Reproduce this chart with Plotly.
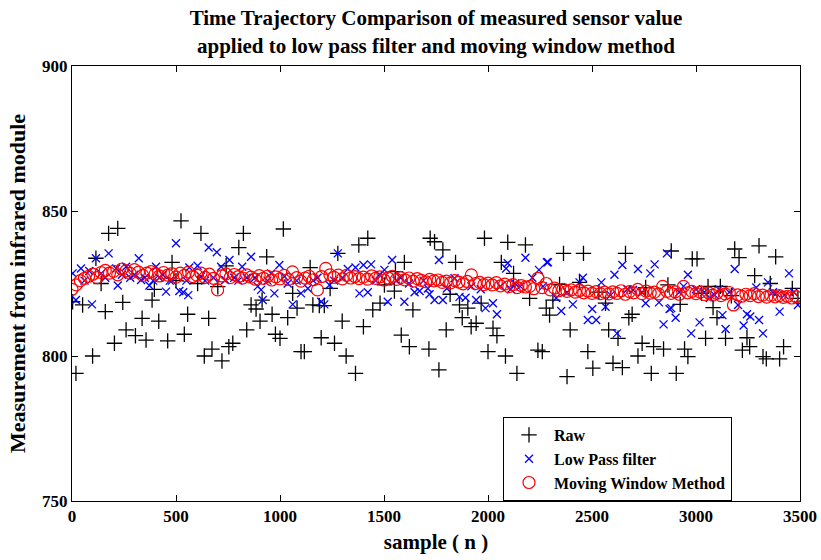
import plotly.graph_objects as go

# ---------------- data ----------------
raw_x = [3, 19, 51, 99, 115, 140, 160, 176, 204, 220, 244, 260, 305, 337, 356, 385, 396, 417, 460, 481, 500, 524, 540, 556,
         604, 620, 636, 657, 673, 701, 721, 741, 754, 773, 802, 824, 840, 861, 885, 904, 914, 936, 962, 978, 1000, 1016, 1037, 1061, 1082, 1101, 1117,
         1145, 1158, 1189, 1198, 1213, 1241, 1262, 1278, 1299, 1318, 1363, 1379, 1401, 1422, 1446, 1481, 1502, 1550, 1555, 1583, 1598, 1622, 1639, 1716, 1722,
         1743, 1764, 1783, 1799, 1818, 1844, 1863, 1876, 1903, 1919, 1943, 1967, 1983, 2000, 2024, 2043, 2064, 2084, 2095, 2123, 2139, 2180, 2200, 2240, 2261, 2280, 2296,
         2312, 2344, 2363, 2380, 2395, 2440, 2459, 2480, 2504, 2533, 2565, 2580, 2601, 2625, 2646, 2661, 2677, 2693, 2721, 2741, 2758, 2785, 2796, 2844, 2865,
         2881, 2905, 2924, 2945, 2961, 2982, 3005, 3026, 3046, 3058, 3082, 3101, 3117, 3142, 3170, 3186, 3207, 3223, 3245, 3258, 3282, 3303, 3322, 3338, 3357, 3383, 3402, 3421, 3463, 3490]
raw_y = [818.7, 794.0, 817.6, 800.0, 833.7, 825.0, 815.3, 842.3, 804.4, 844.0, 818.5, 809.0, 807.0, 813.0, 805.5, 819.3, 823.0, 812.0, 805.2, 832.3, 826.0, 846.6, 807.5, 814.4,
         825.0, 842.3, 800.0, 813.0, 802.4, 823.9, 798.3, 831.1, 803.2, 804.4, 837.4, 842.3, 809.0, 817.6, 816.2, 812.0, 819.3, 834.2, 814.4, 807.5, 806.1, 843.8, 813.2, 821.6, 816.5, 801.5, 801.5,
         830.5, 817.6, 817.4, 806.3, 817.4, 823.3, 804.4, 835.4, 812.0, 800.0, 794.0, 838.3, 810.1, 840.6, 815.9, 818.2, 824.5, 822.4, 829.1, 807.2, 832.3, 803.2, 815.9, 802.4, 840.6,
         839.4, 795.2, 836.6, 809.0, 821.3, 832.3, 817.6, 813.2, 816.5, 810.1, 811.3, 818.2, 840.6, 801.5, 809.6, 807.0, 832.3, 800.0, 839.2, 828.5, 794.0, 838.3, 819.9, 802.0, 801.5, 816.5, 814.1,
         819.3, 824.7, 835.4, 792.9, 809.0, 825.4, 835.4, 801.5, 795.8, 822.0, 818.2, 809.0, 797.5, 806.1, 796.0, 835.4, 813.2, 814.4, 800.0, 804.4, 823.6, 794.0, 803.2, 802.4, 824.5,
         836.2, 794.0, 817.8, 802.4, 799.8, 833.5, 833.5, 821.6, 806.1, 824.0, 816.7, 813.2, 824.0, 806.1, 820.8, 836.9, 833.9, 802.0, 806.3, 803.2, 827.7, 838.0, 799.8, 799.0, 825.0, 834.2, 799.0, 803.2, 823.3, 819.9]

lp_x = [3, 19, 43, 60, 83, 96, 115, 140, 160, 176, 212, 220, 240, 260, 280, 300, 321, 332, 350, 372, 390, 404, 420, 436, 452, 470, 480, 500, 516, 535, 550,
        559, 564, 604, 620, 640, 657, 680, 696, 717, 737, 757, 780, 800, 818, 840, 861, 880, 893, 909, 917, 940, 957, 973, 997, 1021, 1037, 1061, 1080, 1101,
        1134, 1160, 1180, 1198, 1213, 1238, 1260, 1278, 1300, 1326, 1363, 1382, 1401, 1422, 1438, 1460, 1478, 1502, 1518, 1539, 1560, 1580, 1598, 1620, 1647, 1671, 1690, 1711,
        1719, 1743, 1764, 1783, 1802, 1839, 1863, 1892, 1920, 1943, 1965, 1988, 2024, 2043, 2060, 2087, 2095, 2110, 2130, 2155, 2180, 2213, 2245, 2265, 2283,
        2288, 2328, 2352, 2380, 2408, 2440, 2456, 2480, 2501, 2520, 2545, 2565, 2590, 2608, 2620, 2646, 2670, 2697, 2721, 2740, 2758, 2780, 2801, 2822, 2844, 2860, 2873,
        2881, 2902, 2920, 2940, 2961, 2977, 3000, 3017, 3040, 3066, 3090, 3110, 3127, 3142, 3160, 3186, 3202, 3229, 3245, 3261, 3290, 3303, 3322, 3346, 3370, 3386, 3402, 3425, 3447, 3470, 3490]
lp_y = [828.5, 819.3, 830.2, 826.0, 829.3, 817.8, 833.7, 828.5, 827.0, 835.4, 830.2, 824.3, 828.0, 830.8, 827.0, 828.0, 833.7, 826.2, 827.0, 824.3, 826.0, 830.8, 827.0, 828.0, 822.2, 826.0, 826.0, 838.9, 822.4, 822.0, 826.0,
        821.0, 830.5, 831.1, 827.4, 826.0, 837.4, 827.0, 835.8, 830.8, 826.2, 833.1, 827.0, 826.0, 830.8, 827.0, 834.2, 827.0, 824.0, 822.8, 819.3, 826.0, 828.5, 821.6, 831.4, 827.4, 825.0, 817.8, 826.0, 821.6,
        823.3, 826.0, 827.0, 818.7, 817.8, 824.5, 826.0, 835.4, 827.0, 830.0, 830.5, 821.6, 831.4, 822.0, 831.6, 826.0, 828.0, 829.7, 818.7, 833.1, 826.0, 827.0, 818.7, 825.0, 822.0, 822.4, 826.0, 823.3,
        821.3, 819.3, 833.1, 819.3, 823.3, 826.8, 820.4, 820.1, 824.0, 819.3, 823.0, 816.5, 818.2, 814.4, 824.0, 830.2, 832.0, 823.0, 825.0, 824.0, 833.9, 827.0, 829.7, 824.0, 832.3,
        832.3, 820.0, 815.5, 822.0, 817.8, 825.4, 827.0, 812.4, 816.2, 812.4, 825.4, 817.0, 821.0, 828.0, 807.8, 831.4, 823.0, 822.8, 830.0, 822.0, 818.2, 828.5, 831.6, 818.5, 810.9, 835.4, 816.2,
        816.5, 813.2, 822.0, 824.0, 828.0, 807.8, 823.0, 811.6, 822.0, 820.0, 821.0, 823.0, 814.1, 809.3, 822.0, 830.0, 817.6, 810.5, 814.4, 813.6, 823.6, 812.4, 807.8, 825.4, 822.0, 821.6, 815.3, 821.0, 828.5, 822.0, 817.6]

mw_x = list(range(0, 3500, 20))
mw_y = [823.0, 824.5, 826.0, 826.8, 827.5, 828.2, 827.0, 828.8, 829.5, 828.6,
        829.2, 828.0, 830.0, 829.4, 828.5, 829.8, 828.9, 827.8, 828.6, 829.1,
        828.3, 827.6, 828.8, 827.9, 828.4, 827.2, 828.6, 827.8, 828.9, 827.4,
        827.9, 828.6, 827.1, 828.2, 826.8, 822.8, 827.6, 828.3, 827.0, 828.1,
        827.4, 826.9, 828.0, 827.2, 826.5, 827.7, 826.8, 827.5, 826.2, 827.3,
        826.6, 827.8, 826.4, 829.0, 827.0, 825.8, 826.9, 827.5, 826.3, 822.8,
        827.4, 830.2, 828.0, 827.1, 827.9, 826.6, 827.8, 826.9, 827.4, 826.7,
        827.2, 826.5, 827.6, 826.8, 827.3, 826.2, 826.9, 827.5, 826.4, 827.0,
        826.3, 826.9, 825.8, 826.7, 826.1, 825.6, 826.4, 825.9, 826.2, 825.4,
        825.8, 825.2, 826.0, 825.5, 824.9, 825.7, 828.0, 825.0, 825.4, 824.6,
        825.1, 824.5, 825.3, 824.2, 824.8, 823.9, 824.6, 823.6, 824.3, 823.8,
        824.0, 823.2, 826.8, 823.6, 825.0, 822.8, 823.4, 822.5, 823.0, 822.3,
        822.8, 822.0, 822.6, 821.8, 822.4, 821.6, 822.2, 821.5, 822.0, 821.4,
        822.1, 821.6, 822.5, 821.3, 822.2, 821.8, 823.0, 821.5, 822.4, 821.7,
        822.0, 821.4, 824.0, 822.3, 821.6, 822.1, 821.3, 824.0, 821.8, 822.3,
        821.5, 822.0, 821.2, 821.8, 821.0, 821.6, 820.8, 821.4, 821.9, 817.6,
        821.1, 820.6, 821.3, 820.8, 821.5, 820.5, 821.0, 820.3, 820.9, 820.4,
        820.8, 820.2, 820.6, 820.0, 820.5]

x_ticks = [0, 500, 1000, 1500, 2000, 2500, 3000, 3500]
y_ticks = [750, 800, 850, 900]

title_line1 = "Time Trajectory Comparison of measured sensor value"
title_line2 = "applied to low pass filter and moving window method"

FONT = "Liberation Serif"

fig = go.Figure()
fig.add_trace(go.Scatter(
    x=raw_x, y=raw_y, mode="markers", name="<b>Raw</b>",
    marker=dict(symbol="cross-thin", size=11, color="black",
                line=dict(color="black", width=1.3))))
fig.add_trace(go.Scatter(
    x=lp_x, y=lp_y, mode="markers", name="<b>Low Pass filter</b>",
    marker=dict(symbol="x-thin", size=8, color="blue",
                line=dict(color="blue", width=1.3))))
fig.add_trace(go.Scatter(
    x=mw_x, y=mw_y, mode="markers", name="<b>Moving Window Method</b>",
    marker=dict(symbol="circle-open", size=12, color="red",
                line=dict(color="red", width=1.2))))

axis_common = dict(
    showline=True, linecolor="black", linewidth=1, mirror="ticks",
    ticks="inside", ticklen=6, tickcolor="black", tickwidth=1,
    showgrid=False, zeroline=False, automargin=False,
    tickfont=dict(family=FONT, size=17, color="black", weight="bold"),
)

fig.update_layout(
    width=821, height=560,
    margin=dict(l=72, r=21, t=66, b=59),
    paper_bgcolor="white", plot_bgcolor="white",
    title=dict(
        text=title_line1,
        x=436 / 821, xanchor="center",
        y=1 - 18 / 560, yanchor="middle",
        font=dict(family=FONT, size=21, color="black", weight="bold"),
    ),
    annotations=[dict(
        text=title_line2, xref="paper", yref="paper",
        x=0.5, y=(435 + 20) / 435, xanchor="center", yanchor="middle",
        showarrow=False,
        font=dict(family=FONT, size=21, color="black", weight="bold"),
    )],
    xaxis=dict(range=[0, 3500], tickvals=x_ticks,
               title=dict(text="sample ( n )", standoff=8,
                          font=dict(family=FONT, size=21, color="black", weight="bold")),
               **axis_common),
    yaxis=dict(range=[750, 900], tickvals=y_ticks,
               title=dict(text="Measurement from infrared module", standoff=10,
                          font=dict(family=FONT, size=22, color="black", weight="bold")),
               **axis_common),
    legend=dict(
        x=(503 - 72) / 728, y=(501 - 417) / 435, xanchor="left", yanchor="top",
        bgcolor="white", bordercolor="black", borderwidth=1,
        font=dict(family=FONT, size=16, color="black"),
        itemwidth=40, tracegroupgap=0,
    ),
    showlegend=True,
)

fig.write_html("out.html")
